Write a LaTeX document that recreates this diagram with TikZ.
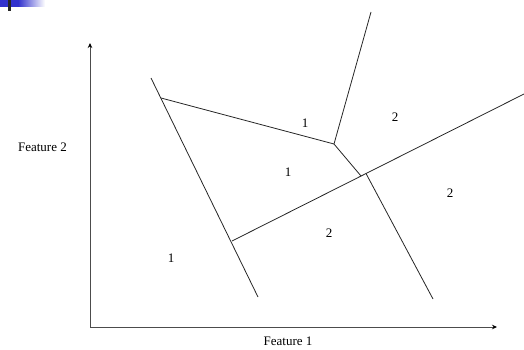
\documentclass[tikz,border=0pt]{standalone}
\usepackage{fontspec}
\setmainfont{Liberation Serif}
\usetikzlibrary{arrows.meta}
\definecolor{slideblue}{RGB}{50,50,205}
\tikzset{
  axis/.style={draw=black!70,line width=0.8pt,-{Stealth[length=5pt,width=4.5pt,black]}},
  border/.style={draw=black!85,line width=0.8pt},
  region/.style={font=\fontsize{13}{15}\selectfont,inner sep=0pt},
}
\begin{document}
\begin{tikzpicture}[x=1pt,y=-1pt]
  \path[use as bounding box] (0,0) rectangle (524,350);
  % slide corner mark
  \fill[slideblue] (0,0) rectangle (18,7);
  \shade[left color=slideblue,right color=white] (18,0) rectangle (45,7);
  \fill[black!85] (8,0) rectangle (11,11);
  % axes
  \coordinate (O) at (90,327);
  \coordinate (ytip) at (90,43);
  \coordinate (xtip) at (497,327);
  \draw[axis] (O) -- (ytip);
  \draw[axis] (O) -- (xtip);
  \node[region] (f1) at (288,341) {Feature 1};
  \node[region,anchor=east] (f2) at (67,147) {Feature 2};
  % decision boundaries
  \coordinate (A1) at (151,78);
  \coordinate (A2) at (258,297);
  \coordinate (B1) at (161,98);
  \coordinate (V) at (334,144);
  \coordinate (Ctop) at (371,12);
  \coordinate (E1) at (232,241);
  \coordinate (E2) at (524,94);
  \coordinate (Dj) at (361,176);
  \coordinate (Fj) at (366,173.5);
  \coordinate (Fb) at (433,299);
  \draw[border] (A1) -- (A2);
  \draw[border] (B1) -- (V) -- (Ctop);
  \draw[border] (V) -- (Dj);
  \draw[border] (E1) -- (E2);
  \draw[border] (Fj) -- (Fb);
  % class labels
  \node[region] (r1) at (305,123) {1};
  \node[region] (r2) at (395,117) {2};
  \node[region] (r3) at (288,172) {1};
  \node[region] (r4) at (450,193) {2};
  \node[region] (r5) at (329,233) {2};
  \node[region] (r6) at (171,258) {1};
\end{tikzpicture}
\end{document}
